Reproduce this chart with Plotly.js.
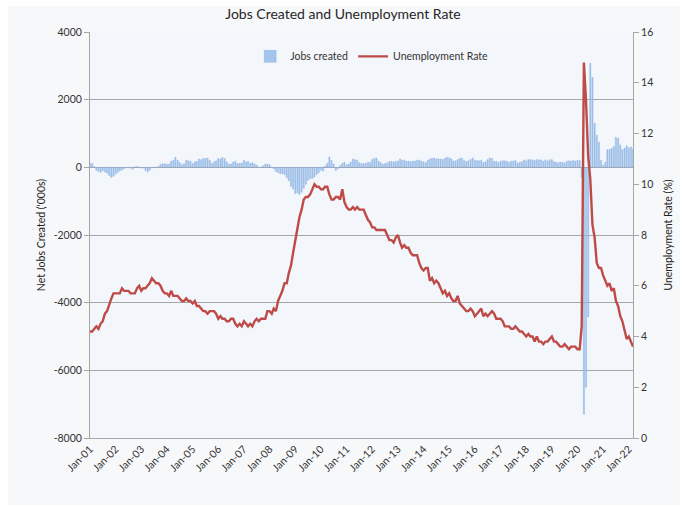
<!DOCTYPE html>
<html>
<head>
<meta charset="utf-8">
<script src="https://cdn.plot.ly/plotly-3.0.1.min.js"></script>
<style>
  html, body { margin: 0; padding: 0; background: #ffffff; }
  #wrap { position: absolute; left: 8px; top: 6px; width: 672px; height: 499px; background: #f7f8fa; }
  #chart { position: absolute; left: 0px; top: 0px; width: 686px; height: 508px; }
</style>
</head>
<body>
<div id="wrap"></div>
<div id="chart"></div>
<script>
// First month of the monthly series (Jan 2001); data run to Mar 2022
const startYear = 2001;
const startMonth = 1;

// Net jobs created ('000s), 3-month average, one row per year
const jobs2001 = [120, 115, 24, -83, -118, -151, -99, -138, -176, -243, -295, -265];
const jobs2002 = [-202, -153, -102, -85, -39, -16, -20, -23, -57, 17, 25, -8];
const jobs2003 = [-19, -25, -93, -139, -88, -17, 6, -7, 29, 88, 107, 106];
const jobs2004 = [93, 102, 180, 210, 299, 213, 141, 78, 107, 212, 193, 182];
const jobs2005 = [110, 168, 169, 245, 224, 261, 265, 271, 212, 115, 162, 193];
const jobs2006 = [258, 250, 291, 259, 162, 94, 102, 156, 183, 114, 123, 128];
const jobs2007 = [206, 166, 172, 119, 137, 100, 63, 10, 12, 50, 94, 98];
const jobs2008 = [77, 10, -49, -124, -158, -187, -186, -213, -309, -397, -565, -646];
const jobs2009 = [-780, -760, -800, -740, -620, -502, -380, -336, -326, -288, -214, -160];
const jobs2010 = [-86, -105, 41, 119, 308, 200, 97, -92, -45, 54, 117, 150];
const jobs2011 = [77, 97, 154, 250, 222, 218, 139, 115, 112, 120, 152, 147];
const jobs2012 = [235, 268, 276, 183, 142, 90, 111, 132, 174, 175, 160, 174];
const jobs2013 = [189, 248, 212, 213, 182, 185, 168, 185, 184, 212, 216, 184];
const jobs2014 = [171, 134, 209, 250, 265, 276, 250, 252, 245, 235, 272, 300];
const jobs2015 = [284, 253, 186, 195, 231, 271, 268, 206, 170, 193, 231, 277];
const jobs2016 = [212, 201, 196, 210, 144, 168, 234, 279, 263, 183, 179, 148];
const jobs2017 = [178, 197, 195, 181, 153, 183, 187, 201, 127, 153, 164, 220];
const jobs2018 = [193, 235, 224, 222, 200, 230, 220, 220, 178, 221, 189, 227];
const jobs2019 = [226, 167, 153, 135, 156, 152, 135, 188, 193, 187, 201, 185];
const jobs2020 = [206, 203, -300, -7300, -6500, -4420, 3080, 2660, 1300, 950, 750, 213];
const jobs2021 = [64, 154, 518, 530, 556, 615, 889, 857, 662, 524, 568, 637];
const jobs2022 = [580, 602, 539];

// Unemployment rate (%), one row per year
const rate2001 = [4.2, 4.2, 4.3, 4.4, 4.3, 4.5, 4.6, 4.9, 5.0, 5.3, 5.5, 5.7];
const rate2002 = [5.7, 5.7, 5.7, 5.9, 5.8, 5.8, 5.8, 5.7, 5.7, 5.7, 5.9, 6.0];
const rate2003 = [5.8, 5.9, 5.9, 6.0, 6.1, 6.3, 6.2, 6.1, 6.1, 6.0, 5.8, 5.7];
const rate2004 = [5.7, 5.6, 5.8, 5.6, 5.6, 5.6, 5.5, 5.4, 5.4, 5.5, 5.4, 5.4];
const rate2005 = [5.3, 5.4, 5.2, 5.2, 5.1, 5.0, 5.0, 4.9, 5.0, 5.0, 5.0, 4.9];
const rate2006 = [4.7, 4.8, 4.7, 4.7, 4.6, 4.6, 4.7, 4.7, 4.5, 4.4, 4.5, 4.4];
const rate2007 = [4.6, 4.5, 4.4, 4.5, 4.4, 4.6, 4.7, 4.6, 4.7, 4.7, 4.7, 5.0];
const rate2008 = [5.0, 4.9, 5.1, 5.0, 5.4, 5.6, 5.8, 6.1, 6.1, 6.5, 6.8, 7.3];
const rate2009 = [7.8, 8.3, 8.7, 9.0, 9.4, 9.5, 9.5, 9.6, 9.8, 10.0, 9.9, 9.9];
const rate2010 = [9.8, 9.8, 9.9, 9.9, 9.6, 9.4, 9.4, 9.5, 9.5, 9.4, 9.8, 9.3];
const rate2011 = [9.1, 9.0, 9.0, 9.1, 9.0, 9.1, 9.0, 9.0, 9.0, 8.8, 8.6, 8.5];
const rate2012 = [8.3, 8.3, 8.2, 8.2, 8.2, 8.2, 8.2, 8.0, 7.8, 7.8, 7.7, 7.9];
const rate2013 = [8.0, 7.7, 7.5, 7.6, 7.5, 7.5, 7.3, 7.2, 7.2, 7.2, 6.9, 6.7];
const rate2014 = [6.6, 6.7, 6.7, 6.2, 6.3, 6.1, 6.2, 6.1, 5.9, 5.7, 5.8, 5.6];
const rate2015 = [5.7, 5.5, 5.4, 5.4, 5.6, 5.3, 5.2, 5.1, 5.0, 5.0, 5.1, 5.0];
const rate2016 = [4.8, 4.9, 5.0, 5.1, 4.8, 4.9, 4.8, 4.9, 5.0, 4.9, 4.7, 4.7];
const rate2017 = [4.7, 4.6, 4.4, 4.4, 4.4, 4.3, 4.3, 4.4, 4.3, 4.2, 4.2, 4.1];
const rate2018 = [4.0, 4.1, 4.0, 4.0, 3.8, 4.0, 3.8, 3.8, 3.7, 3.8, 3.8, 3.9];
const rate2019 = [4.0, 3.8, 3.8, 3.7, 3.6, 3.6, 3.7, 3.6, 3.5, 3.6, 3.6, 3.6];
const rate2020 = [3.5, 3.5, 4.4, 14.8, 13.3, 11.1, 10.2, 8.4, 7.9, 6.9, 6.7, 6.7];
const rate2021 = [6.4, 6.2, 6.0, 6.1, 5.8, 5.9, 5.4, 5.2, 4.8, 4.6, 4.2, 3.9];
const rate2022 = [4.0, 3.8, 3.6];

// Axis tick values
const leftTicks = [-8000, -6000, -4000, -2000, 0, 2000, 4000];
const rightTicks = [0, 2, 4, 6, 8, 10, 12, 14, 16];

const jobs = [].concat(jobs2001, jobs2002, jobs2003, jobs2004, jobs2005, jobs2006, jobs2007,
  jobs2008, jobs2009, jobs2010, jobs2011, jobs2012, jobs2013, jobs2014, jobs2015, jobs2016,
  jobs2017, jobs2018, jobs2019, jobs2020, jobs2021, jobs2022);
const rate = [].concat(rate2001, rate2002, rate2003, rate2004, rate2005, rate2006, rate2007,
  rate2008, rate2009, rate2010, rate2011, rate2012, rate2013, rate2014, rate2015, rate2016,
  rate2017, rate2018, rate2019, rate2020, rate2021, rate2022);

const months = jobs.map((_, i) => {
  const m = startMonth - 1 + i;
  const y = startYear + Math.floor(m / 12);
  const mm = (m % 12) + 1;
  return y + '-' + (mm < 10 ? '0' + mm : mm) + '-01';
});

const font = 'Lato, "Open Sans", "DejaVu Sans", sans-serif';

const traces = [
  {
    type: 'bar',
    name: 'Jobs created',
    x: months,
    y: jobs,
    yaxis: 'y',
    marker: { color: '#a3c4ec', line: { color: '#7ba7dc', width: 0.3 } },
    hoverinfo: 'x+y'
  },
  {
    type: 'scatter',
    mode: 'lines',
    name: 'Unemployment Rate',
    x: months,
    y: rate,
    yaxis: 'y2',
    line: { color: '#be4b48', width: 2.4 }
  }
];

const layout = {
  width: 686,
  height: 508,
  paper_bgcolor: 'rgba(0,0,0,0)',
  plot_bgcolor: '#f3f6fa',
  margin: { l: 90, r: 53, t: 32, b: 70 },
  font: { family: font, size: 10.5, color: '#333333' },
  title: {
    text: 'Jobs Created and Unemployment Rate',
    font: { family: font, size: 14, color: '#262626' },
    x: 0.5, xanchor: 'center', y: 0.972, yanchor: 'middle'
  },
  bargap: 0.35,
  showlegend: true,
  legend: {
    orientation: 'h',
    x: 0.295, xanchor: 'left',
    y: 0.94, yanchor: 'middle',
    bgcolor: 'rgba(0,0,0,0)',
    font: { family: font, size: 10.5, color: '#333333' },
    itemwidth: 30,
    traceorder: 'normal'
  },
  xaxis: {
    type: 'date',
    range: ['2001-01-01', '2022-03-01'],
    tick0: '2001-01-01',
    dtick: 'M12',
    tickformat: '%b-%y',
    tickangle: -45,
    ticks: '',
    showgrid: false,
    showline: true,
    linecolor: '#a6a6a6',
    linewidth: 1,
    tickfont: { family: font, size: 10.5, color: '#333333' }
  },
  yaxis: {
    range: [-8000, 4000],
    tickvals: leftTicks,
    ticktext: leftTicks.map(String),
    showgrid: true,
    gridcolor: '#a6a6a6',
    gridwidth: 1,
    zeroline: true,
    zerolinecolor: '#a6a6a6',
    zerolinewidth: 1,
    showline: true,
    linecolor: '#a6a6a6',
    linewidth: 1,
    ticks: 'outside',
    ticklen: 5,
    tickcolor: '#a6a6a6',
    tickfont: { family: font, size: 10.5, color: '#333333' },
    title: { text: "Net Jobs Created ('000s)", font: { family: font, size: 10.5, color: '#222222' }, standoff: 5 }
  },
  yaxis2: {
    overlaying: 'y',
    side: 'right',
    range: [0, 16],
    tickvals: rightTicks,
    ticktext: rightTicks.map(String),
    showgrid: false,
    zeroline: false,
    showline: true,
    linecolor: '#a6a6a6',
    linewidth: 1,
    ticks: 'outside',
    ticklen: 5,
    tickcolor: '#a6a6a6',
    tickfont: { family: font, size: 10.5, color: '#333333' },
    title: { text: 'Unemployment Rate (%)', font: { family: font, size: 10.5, color: '#222222' }, standoff: 12 }
  }
};

Plotly.newPlot('chart', traces, layout, { displayModeBar: false, staticPlot: true });
</script>
</body>
</html>
